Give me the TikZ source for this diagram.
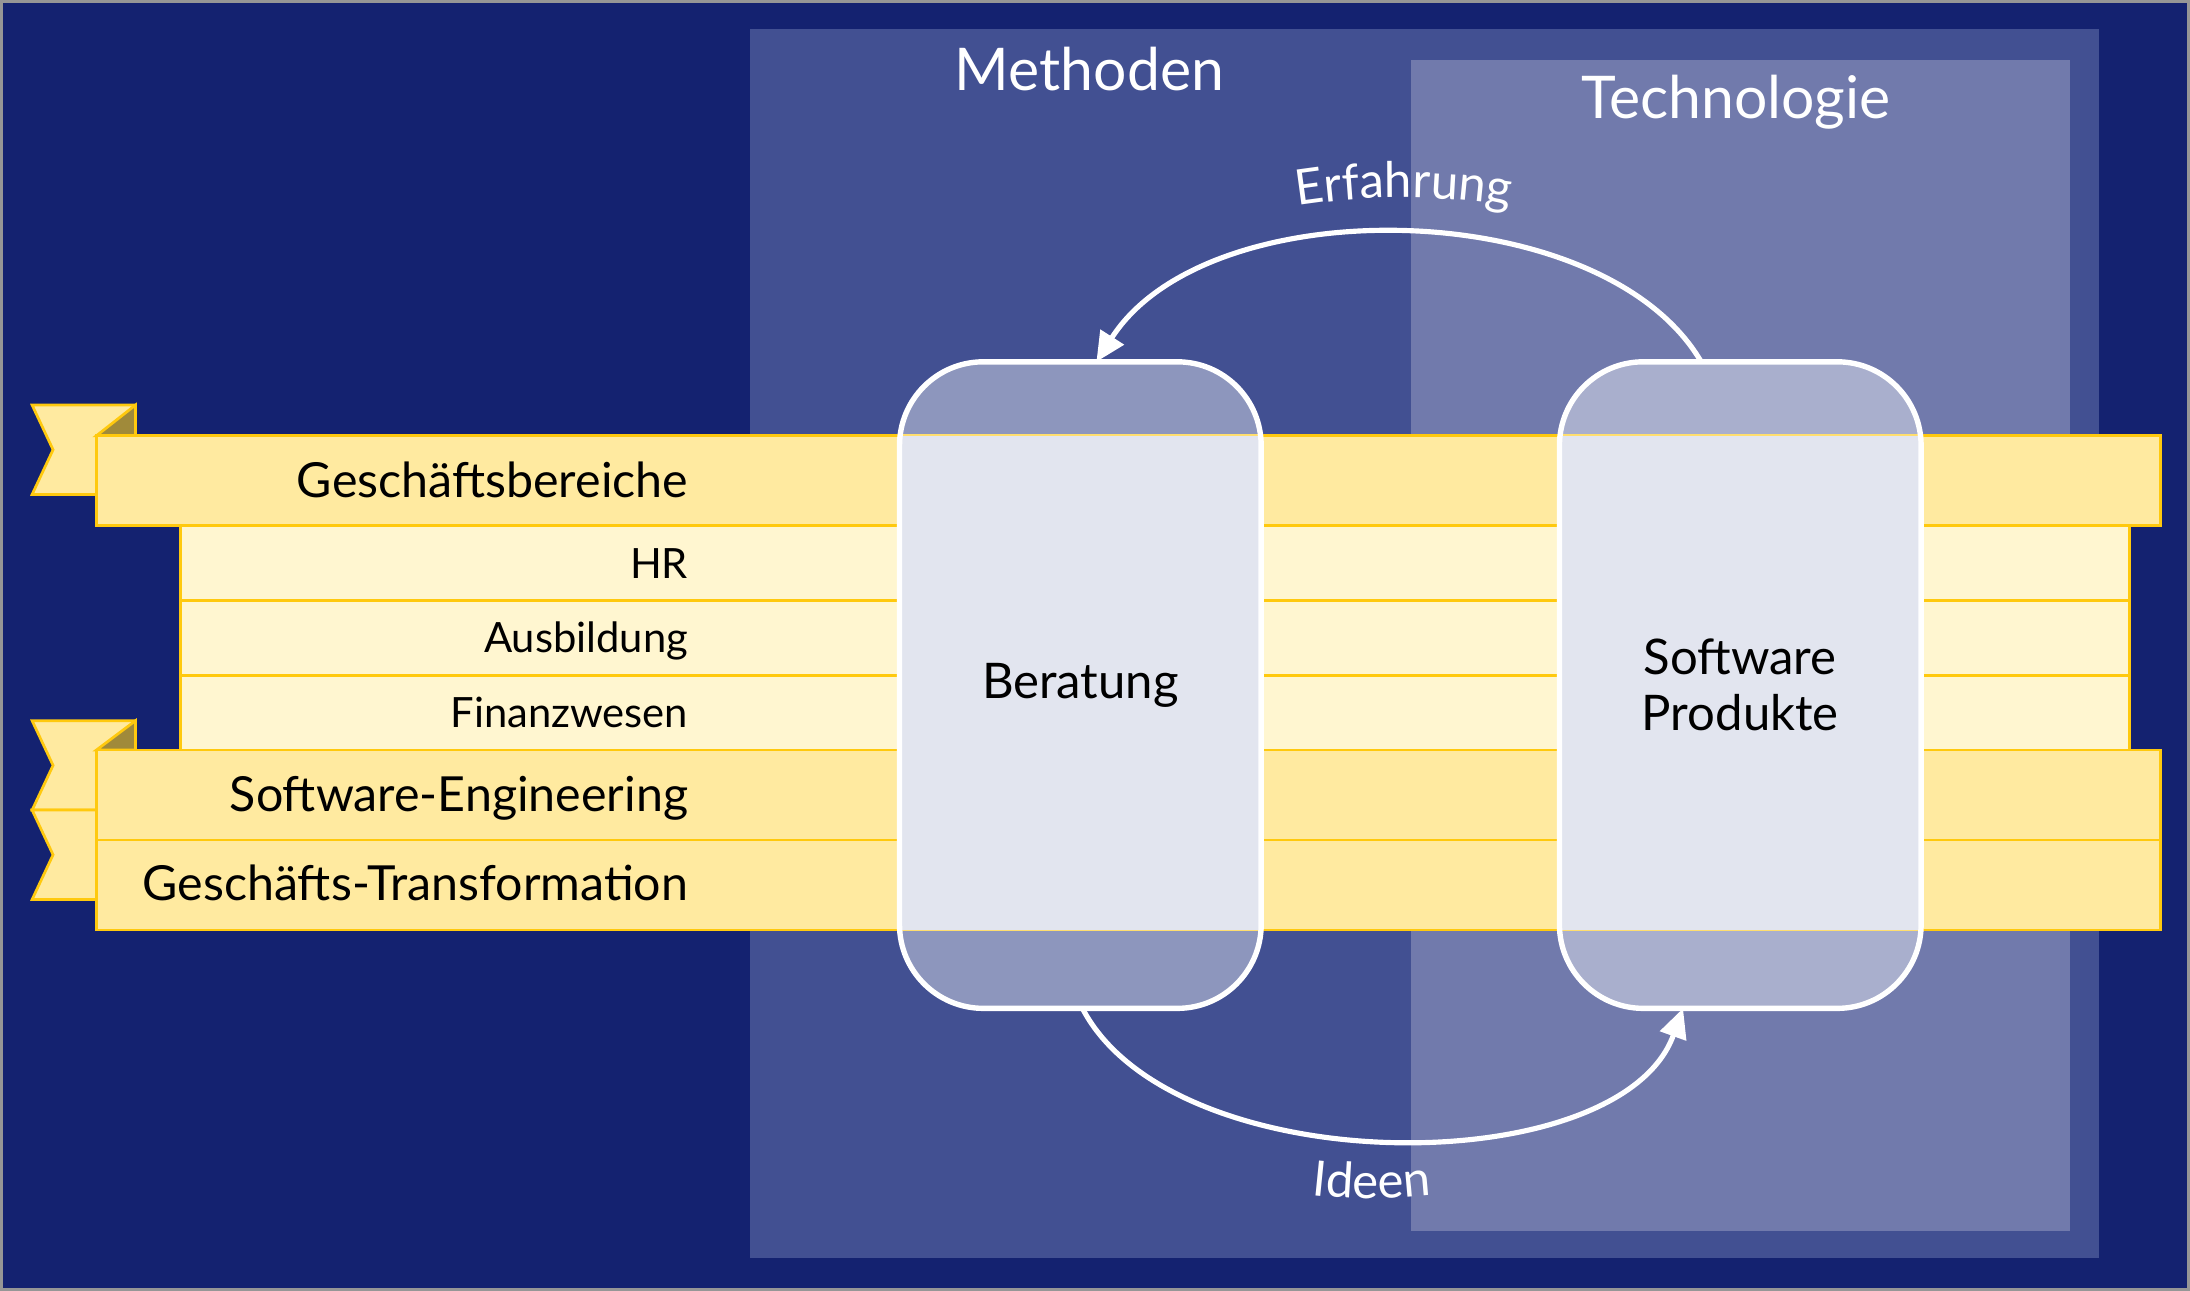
\documentclass[tikz,border=0pt]{standalone}
\usepackage{fontspec}
\setmainfont{Lato}
\usetikzlibrary{arrows.meta, positioning, decorations.text}

\definecolor{navy}{RGB}{20,34,112}
\definecolor{framegray}{RGB}{150,150,150}
\definecolor{methfill}{RGB}{66,80,146}
\definecolor{techfill}{RGB}{113,122,172}
\definecolor{bandfill}{RGB}{255,234,160}
\definecolor{subfill}{RGB}{255,246,208}
\definecolor{bandline}{RGB}{255,201,14}
\definecolor{foldfill}{RGB}{160,138,58}
\definecolor{boxmid}{RGB}{226,229,239}

\newcommand\arclabelfont{\color{white}\fontsize{20}{24}\selectfont}

\begin{document}
\begin{tikzpicture}[
        x=0.02cm, y=-0.02cm,
        band/.style={
            draw=bandline,
            line width=1.1pt,
            fill=bandfill,
            minimum width=29.56cm,
            minimum height=1.29cm,
            inner sep=0pt,
            outer sep=0pt,
            anchor=north west
        },
        subband/.style={band, fill=subfill, minimum width=27.92cm, minimum height=1.07cm},
        bandtext/.style={font=\fontsize{19.7}{23}\selectfont, anchor=base east, inner sep=0pt},
        subtext/.style={font=\fontsize{17}{20}\selectfont, anchor=base east, inner sep=0pt},
        tail/.style={draw=bandline, line width=1.1pt, fill=bandfill, line join=miter},
        fold/.style={draw=bandline, line width=1.1pt, fill=foldfill},
        proc/.style={
            draw=white,
            line width=2.2pt,
            fill=white,
            fill opacity=0.4,
            text opacity=1,
            rounded corners=1.2cm,
            minimum width=5.18cm,
            minimum height=9.26cm,
            outer sep=0pt,
            font=\fontsize{20}{23}\selectfont,
            align=center,
            path picture={
                \fill[boxmid, fill opacity=1, sharp corners]
                    ([yshift=-1.06cm]path picture bounding box.north west)
                    rectangle ([yshift=1.12cm]path picture bounding box.south east);
            }
        },
        flow/.style={draw=white, line width=2.1pt, -{Triangle[length=12pt, width=11pt]}},
        title/.style={text=white, font=\fontsize{24}{28}\selectfont, anchor=base, inner sep=0pt}
    ]
        \useasboundingbox (0,0) rectangle (1568,924);
        \filldraw[fill=navy, draw=framegray, line width=0.04cm] (1,1) rectangle (1567,923);

        % Spalten
        \fill[methfill] (537,21) rectangle (1503,901);
        \fill[techfill] (1010,43) rectangle (1482,881);
        \node[title] (methtitle) at (780,65) {Methoden};
        \node[title] (techtitle) at (1243,85) {Technologie};

        % Baender links
        \draw[tail] (23,290) -- (97,290) -- (97,354) -- (23,354) -- (38,322) -- cycle;
        \draw[fold] (69,312) -- (97,290) -- (97,312) -- cycle;
        \node[band] (gbband) at (69,312) {};
        \node[bandtext] (gblabel) at (493,356) {Geschäftsbereiche};

        \node[subband] (hrband) at (gbband.south west -| 129,0) {};
        \node[subband] (ausband) at (hrband.south west) {};
        \node[subband] (finband) at (ausband.south west) {};
        \node[subtext] (hrlabel) at (493,414) {HR};
        \node[subtext] (auslabel) at (493,467) {Ausbildung};
        \node[subtext] (finlabel) at (493,521) {Finanzwesen};

        \draw[tail] (23,516) -- (97,516) -- (97,580) -- (23,580) -- (38,548) -- cycle;
        \draw[tail] (23,580) -- (97,580) -- (97,644) -- (23,644) -- (38,612) -- cycle;
        \draw[fold] (69,537) -- (97,516) -- (97,537) -- cycle;
        \node[band] (seband) at (finband.south west -| 69,0) {};
        \node[band] (gtband) at (seband.south west) {};
        \node[bandtext] (selabel) at (493,581) {Software-Engineering};
        \node[bandtext] (gtlabel) at (493,645) {Geschäfts-Transformation};

        % Kreislauf
        \node[proc] (berat) at (773.5,490.5) {Beratung};
        \node[proc] (soft) at (1246,490.5) {Software\\Produkte};

        \draw[flow] ([xshift=-0.56cm]soft.north) .. controls +(-70,-120) and +(80,-125) .. ([xshift=0.23cm]berat.north);
        \draw[flow] ([xshift=0.03cm]berat.south) .. controls +(65,125) and +(-45,125) .. ([xshift=-0.82cm]soft.south);

        \path[decorate, decoration={text along path, text align=center, text={|\arclabelfont|Erfahrung}}]
            (880,158) .. controls (960,136) and (1050,136) .. (1130,158);
        \path[decorate, decoration={text along path, text align=center, text={|\arclabelfont|Ideen}}]
            (862,835) .. controls (922,866) and (1042,866) .. (1102,835);
    \end{tikzpicture}
\end{document}
